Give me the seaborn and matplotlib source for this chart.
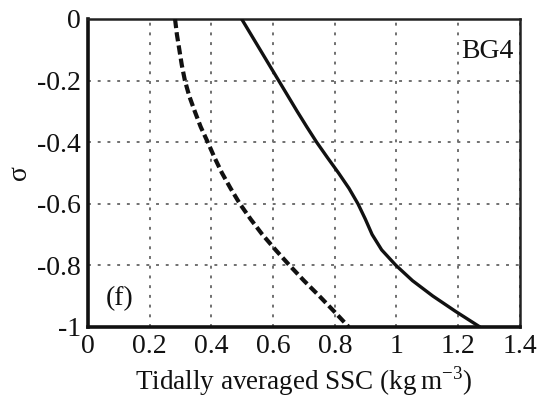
import numpy as np
import pandas as pd
import matplotlib
matplotlib.use('Agg')
import matplotlib.pyplot as plt
import seaborn as sns

# vertical coordinate and tidally averaged SSC profiles (station BG4)
sigma_solid = [0, -0.05, -0.1, -0.15, -0.2, -0.25, -0.3, -0.35, -0.4, -0.45, -0.5,
               -0.55, -0.6, -0.65, -0.7, -0.75, -0.8, -0.85, -0.9, -0.95, -1.0]
ssc_solid = [0.498, 0.528, 0.558, 0.588, 0.618, 0.648, 0.678, 0.709, 0.741, 0.776, 0.812,
             0.846, 0.875, 0.899, 0.921, 0.952, 0.998, 1.052, 1.118, 1.192, 1.27]

sigma_dash = [0, -0.05, -0.1, -0.15, -0.2, -0.25, -0.3, -0.35, -0.4, -0.45, -0.5,
              -0.55, -0.6, -0.65, -0.7, -0.75, -0.8, -0.85, -0.9, -0.95, -1.0]
ssc_dash = [0.282, 0.288, 0.296, 0.304, 0.314, 0.328, 0.346, 0.365, 0.388, 0.41, 0.434,
            0.462, 0.492, 0.527, 0.565, 0.608, 0.653, 0.70, 0.75, 0.798, 0.845]

xticks = [0, 0.2, 0.4, 0.6, 0.8, 1, 1.2, 1.4]
xticklabels = ['0', '0.2', '0.4', '0.6', '0.8', '1', '1.2', '1.4']
yticks = [0, -0.2, -0.4, -0.6, -0.8, -1]
yticklabels = ['0', '-0.2', '-0.4', '-0.6', '-0.8', '-1']

sns.set_style('white')
plt.rcParams['font.family'] = ['Liberation Serif', 'DejaVu Serif']
plt.rcParams['mathtext.fontset'] = 'custom'
plt.rcParams['mathtext.rm'] = 'Liberation Serif'

fig = plt.figure(figsize=(5.37, 4.04), dpi=100)
ax = fig.add_axes([0.164, 0.191, 0.804, 0.762])

df_s = pd.DataFrame({'ssc': ssc_solid, 'sigma': sigma_solid})
df_d = pd.DataFrame({'ssc': ssc_dash, 'sigma': sigma_dash})
sns.lineplot(data=df_s, x='ssc', y='sigma', sort=False, estimator=None,
             color='#111111', lw=2.4, ax=ax, zorder=3)
sns.lineplot(data=df_d, x='ssc', y='sigma', sort=False, estimator=None,
             color='#111111', lw=3.0, ax=ax, zorder=3, linestyle=(0, (2.2, 1.0)))

ax.set_xlim(0, 1.4)
ax.set_ylim(-1, 0)
ax.set_xticks(xticks)
ax.set_xticklabels(xticklabels)
ax.set_yticks(yticks)
ax.set_yticklabels(yticklabels)
ax.tick_params(axis='both', labelsize=20, direction='out', length=4, width=2,
               pad=1, color='#111111', labelcolor='#111111')

ax.grid(True, color='#707070', lw=1.4, linestyle=(0, (1.5, 3.5)))
ax.set_axisbelow(True)

for side in ['left', 'bottom']:
    ax.spines[side].set_linewidth(2.6)
    ax.spines[side].set_color('#111111')
for side in ['top', 'right']:
    ax.spines[side].set_linewidth(1.8)
    ax.spines[side].set_color('#222222')

ax.set_xlabel(r'Tidally averaged SSC (kg$\,$m$^{-3}$)', fontsize=19.5, color='#111111', labelpad=4)
ax.set_ylabel('σ', fontsize=20, color='#111111', labelpad=4)

ax.text(0.985, 0.935, 'BG4', transform=ax.transAxes, ha='right', va='top',
        fontsize=20, color='#111111')
ax.text(0.04, 0.05, '(f)', transform=ax.transAxes, ha='left', va='bottom',
        fontsize=20, color='#111111')

fig.savefig('out.png', dpi=100)
